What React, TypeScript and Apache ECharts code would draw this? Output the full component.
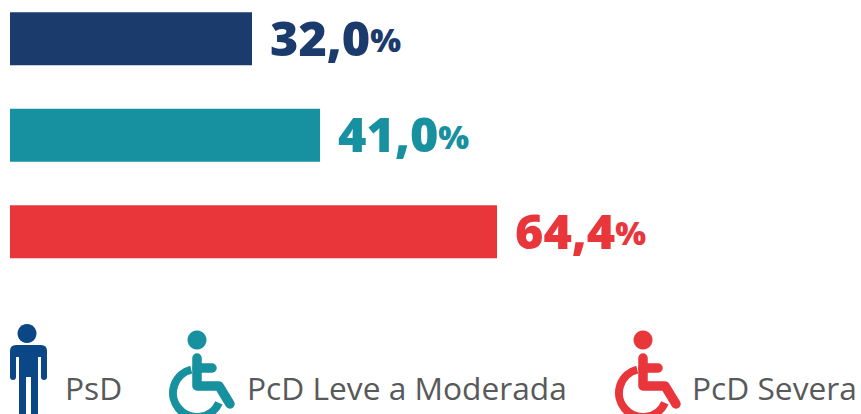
import React, { useEffect, useRef } from "react";
import * as echarts from "echarts";

const categories = ["PsD", "PcD Leve a Moderada", "PcD Severa"];
const values = [32.0, 41.0, 64.4];
const colors = ["#1a3b6c", "#17909f", "#e9363b"];
const personColor = "#0b4786";
const textColor = "#58595b";
const FONT = "'Open Sans'";

const personPath =
  "M16,345 H41 Q47,345 47,351 V377 Q47,380 44,380 Q41,380 41,377 V357 H38 V414 H31 V377 H26 V414 H19 V357 H16 V377 Q16,380 13,380 Q10,380 10,377 V351 Q10,345 16,345 Z";

echarts.graphic.registerShape("personBody", echarts.graphic.extendPath(personPath, {}) as any);

function wheelchair(dx: number, color: string) {
  const line = { stroke: color, lineWidth: 9.5, lineCap: "round", lineJoin: "round", fill: "none" };
  return {
    type: "group",
    x: dx,
    silent: true,
    children: [
      { type: "circle", shape: { cx: 197, cy: 340, r: 9.5 }, style: { fill: color } },
      { type: "polyline", shape: { points: [[197, 358], [197, 386], [219, 386], [230, 404]] }, style: line },
      { type: "polyline", shape: { points: [[197, 368], [212, 368]] }, style: line },
      {
        type: "arc",
        shape: { cx: 197, cy: 393, r: 24, startAngle: 0.42, endAngle: 4.47, clockwise: true },
        style: { stroke: color, lineWidth: 8, fill: "none" },
      },
    ],
  };
}

function legendText(name: string, x: number) {
  return {
    type: "text",
    x,
    y: 387,
    silent: true,
    style: {
      text: name,
      fill: textColor,
      font: `400 31.7px ${FONT}`,
      verticalAlign: "middle",
    },
  };
}

export default function App() {
  const ref = useRef<HTMLDivElement>(null);
  useEffect(() => {
    const chart = echarts.init(ref.current!, undefined, { renderer: "svg" });
    chart.setOption({
      animation: false,
      grid: { left: 10, top: 38.7, width: 756.25, height: 193, containLabel: false },
      xAxis: { type: "value", min: 0, max: 100, show: false },
      yAxis: { type: "category", data: categories, inverse: true, show: false, boundaryGap: false },
      series: [
        {
          type: "bar",
          barWidth: 53,
          silent: true,
          data: values.map((v, i) => ({
            value: v,
            itemStyle: { color: colors[i] },
            label: {
              show: true,
              position: "right",
              distance: 18,
              offset: [0, -2],
              formatter: () => `{v|${v.toFixed(1).replace(".", ",")}}{p|%}`,
              rich: {
                v: { fontFamily: FONT, fontWeight: 800, fontSize: 48.5, color: colors[i] },
                p: { fontFamily: FONT, fontWeight: 800, fontSize: 32.5, color: colors[i], padding: [6, 0, 0, 0] },
              },
            },
          })),
        },
      ],
      graphic: [
        { type: "circle", silent: true, shape: { cx: 27, cy: 333.5, r: 9.5 }, style: { fill: personColor } },
        { type: "personBody", silent: true, style: { fill: personColor } },
        wheelchair(0, colors[1]),
        wheelchair(446, colors[2]),
        legendText(categories[0], 65),
        legendText(categories[1], 247),
        legendText(categories[2], 692),
      ],
    });
    return () => chart.dispose();
  }, []);
  return <div ref={ref} style={{ position: "absolute", left: 0, top: 0, width: 861, height: 414 }} />;
}
